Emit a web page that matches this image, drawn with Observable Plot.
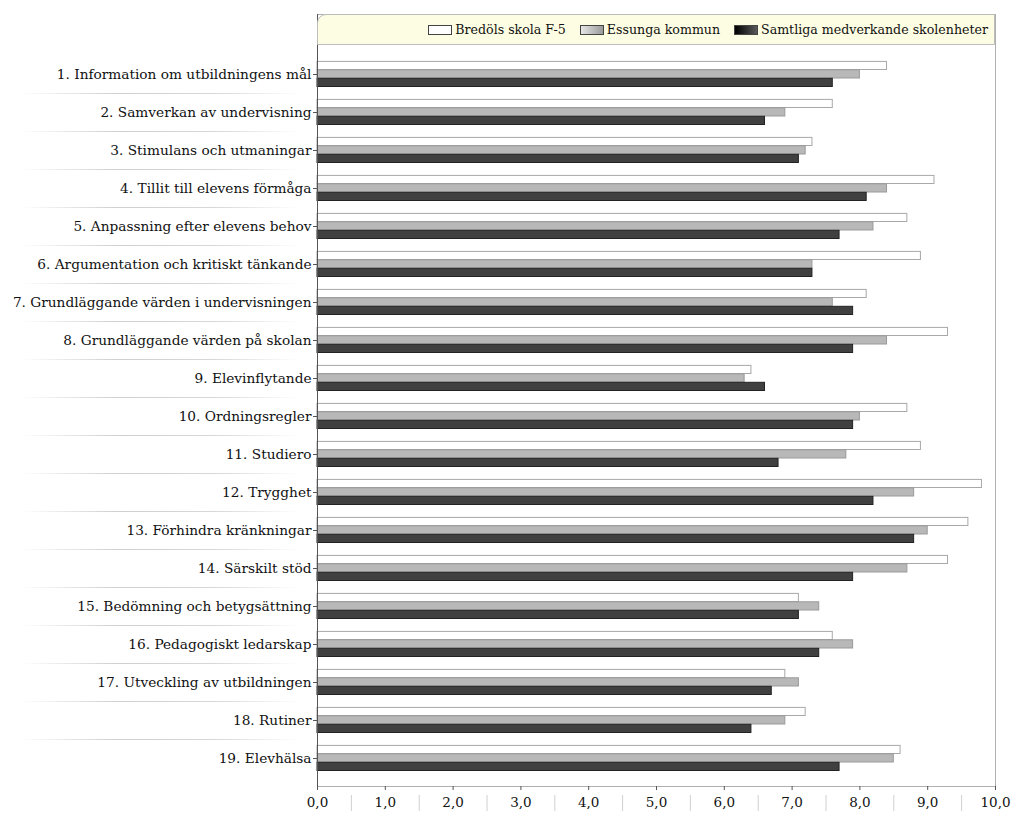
<!DOCTYPE html>
<html>
<head>
<meta charset="utf-8">
<script src="https://cdn.jsdelivr.net/npm/d3@7"></script>
<script src="https://cdn.jsdelivr.net/npm/@observablehq/plot@0.6"></script>
<style>
  html, body { margin: 0; padding: 0; background: #fff; }
  #wrap { position: relative; width: 1024px; height: 822px; }
  #legend {
    position: absolute; top: 14px; left: 317px; width: 678px; height: 31px;
    box-sizing: border-box; background: #fdfde3; border: 1px solid #bdbdbd;
    border-top-left-radius: 9px;
    display: flex; justify-content: flex-end; align-items: center;
    padding-right: 6px; gap: 14px;
    font-family: "DejaVu Serif"; font-size: 12.6px; color: #111;
  }
  .item { display: flex; align-items: center; gap: 3px; }
  .sw { width: 24px; height: 10px; border: 1px solid #444; box-sizing: border-box; }
  svg text { font-family: "DejaVu Serif" !important; }
</style>
</head>
<body>
<div id="wrap">
  <div id="chart"></div>
  <div id="legend"></div>
</div>
<script>
const categories = [
  "1. Information om utbildningens mål",
  "2. Samverkan av undervisning",
  "3. Stimulans och utmaningar",
  "4. Tillit till elevens förmåga",
  "5. Anpassning efter elevens behov",
  "6. Argumentation och kritiskt tänkande",
  "7. Grundläggande värden i undervisningen",
  "8. Grundläggande värden på skolan",
  "9. Elevinflytande",
  "10. Ordningsregler",
  "11. Studiero",
  "12. Trygghet",
  "13. Förhindra kränkningar",
  "14. Särskilt stöd",
  "15. Bedömning och betygsättning",
  "16. Pedagogiskt ledarskap",
  "17. Utveckling av utbildningen",
  "18. Rutiner",
  "19. Elevhälsa"
];
const seriesNames = ["Bredöls skola F-5", "Essunga kommun", "Samtliga medverkande skolenheter"];
const bredols  = [8.4, 7.6, 7.3, 9.1, 8.7, 8.9, 8.1, 9.3, 6.4, 8.7, 8.9, 9.8, 9.6, 9.3, 7.1, 7.6, 6.9, 7.2, 8.6];
const essunga  = [8.0, 6.9, 7.2, 8.4, 8.2, 7.3, 7.6, 8.4, 6.3, 8.0, 7.8, 8.8, 9.0, 8.7, 7.4, 7.9, 7.1, 6.9, 8.5];
const samtliga = [7.6, 6.6, 7.1, 8.1, 7.7, 7.3, 7.9, 7.9, 6.6, 7.9, 6.8, 8.2, 8.8, 7.9, 7.1, 7.4, 6.7, 6.4, 7.7];
const xTicks = [0, 1, 2, 3, 4, 5, 6, 7, 8, 9, 10];
const xHalfTicks = [0.5, 1.5, 2.5, 3.5, 4.5, 5.5, 6.5, 7.5, 8.5, 9.5];

const rows = (vals) => categories.map((c, i) => ({cat: c, v: vals[i]}));

const styles = [
  {fill: "#ffffff", stroke: "#a8a8a8", insetTop: 6.4, insetBottom: 23.5},
  {fill: "#b8b8b8", stroke: "#9a9a9a", insetTop: 14.8, insetBottom: 15.0},
  {fill: "#404040", stroke: "#222222", insetTop: 23.3, insetBottom: 6.5}
];
const seriesVals = [bredols, essunga, samtliga];

const plot = Plot.plot({
  width: 1024,
  height: 822,
  marginLeft: 317,
  marginRight: 29,
  marginTop: 14,
  marginBottom: 36,
  style: {fontFamily: "DejaVu Serif", fontSize: "14px", color: "#111", background: "white"},
  x: {domain: [0, 10]},
  y: {domain: categories, range: [52, 779], padding: 0},
  marks: [
    Plot.frame({stroke: "#b0b0b0"}),
    ...seriesVals.map((vals, k) => Plot.barX(rows(vals), {
      x: "v", y: "cat", fill: styles[k].fill, stroke: styles[k].stroke, strokeWidth: 1,
      insetTop: styles[k].insetTop, insetBottom: styles[k].insetBottom
    })),
    Plot.ruleX([0], {stroke: "#555"}),
    Plot.axisY({label: null, tickSize: 4, tickPadding: 2, fontSize: 13.7, stroke: "#555"}),
    Plot.axisX({label: null, ticks: xTicks, tickSize: 4, tickPadding: 7, fontSize: 13.5,
      tickFormat: d => d.toFixed(1).replace(".", ","), stroke: "#555"}),
    Plot.axisX({label: null, ticks: xHalfTicks, tickSize: 16, dy: 9, tickFormat: () => "", stroke: "#d0d0d0"})
  ]
});

document.getElementById("chart").appendChild(plot);

// separator lines between category labels, positioned by the y scale
const yScale = plot.scale("y");
const svg = d3.select(plot);
const defs = svg.append("defs");
const grad = defs.append("linearGradient").attr("id", "sepGrad")
  .attr("gradientUnits", "userSpaceOnUse").attr("x1", 20).attr("x2", 300).attr("y1", 0).attr("y2", 0);
grad.append("stop").attr("offset", "0%").attr("stop-color", "#ffffff");
grad.append("stop").attr("offset", "35%").attr("stop-color", "#cfcfcf");
grad.append("stop").attr("offset", "70%").attr("stop-color", "#d8d8d8");
grad.append("stop").attr("offset", "100%").attr("stop-color", "#ffffff");
svg.append("g").selectAll("line")
  .data(categories.slice(1))
  .join("line")
  .attr("x1", 20).attr("x2", 300)
  .attr("y1", d => yScale.apply(d) + 0.5)
  .attr("y2", d => yScale.apply(d) + 0.5)
  .attr("stroke", "url(#sepGrad)")
  .attr("stroke-width", 1.2);

// legend
const swatchFills = [
  "#ffffff",
  "linear-gradient(to right, #e6e6e6, #9a9a9a)",
  "linear-gradient(to right, #000000, #5a5a5a)"
];
const legend = d3.select("#legend");
seriesNames.forEach((name, k) => {
  const it = legend.append("div").attr("class", "item");
  it.append("div").attr("class", "sw").style("background", swatchFills[k]);
  it.append("span").text(name);
});
</script>
</body>
</html>
